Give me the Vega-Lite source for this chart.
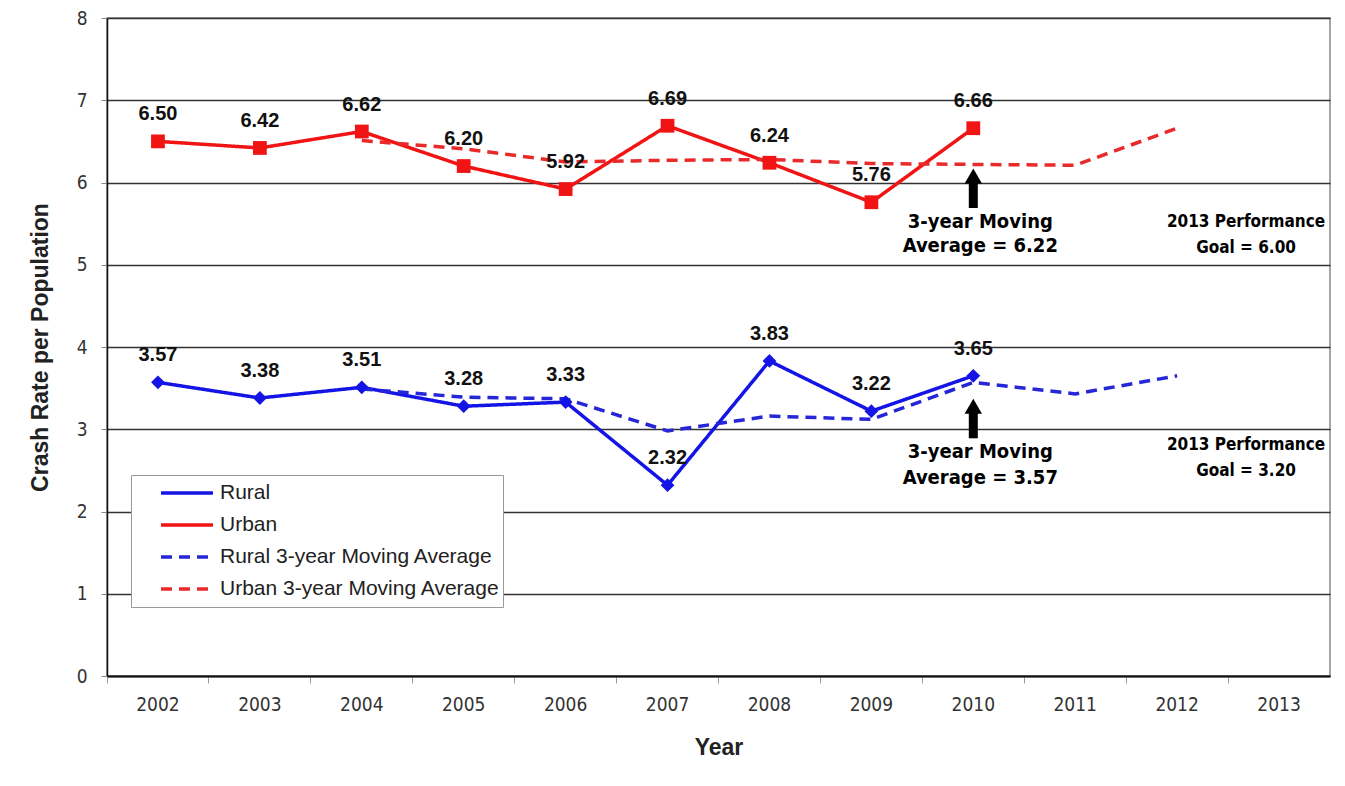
{
  "$schema": "https://vega.github.io/schema/vega-lite/v6.json",
  "width": 1223,
  "height": 658,
  "autosize": "none",
  "padding": {"left": 107, "top": 18, "right": 15, "bottom": 110},
  "background": "white",
  "config": {
    "view": {"stroke": "#888", "strokeWidth": 1.5},
    "font": "Liberation Sans"
  },
  "datasets": {
    "series": [
      {"year": "2002", "series": "Rural", "value": 3.57},
      {"year": "2003", "series": "Rural", "value": 3.38},
      {"year": "2004", "series": "Rural", "value": 3.51},
      {"year": "2005", "series": "Rural", "value": 3.28},
      {"year": "2006", "series": "Rural", "value": 3.33},
      {"year": "2007", "series": "Rural", "value": 2.32},
      {"year": "2008", "series": "Rural", "value": 3.83},
      {"year": "2009", "series": "Rural", "value": 3.22},
      {"year": "2010", "series": "Rural", "value": 3.65},
      {"year": "2002", "series": "Urban", "value": 6.50},
      {"year": "2003", "series": "Urban", "value": 6.42},
      {"year": "2004", "series": "Urban", "value": 6.62},
      {"year": "2005", "series": "Urban", "value": 6.20},
      {"year": "2006", "series": "Urban", "value": 5.92},
      {"year": "2007", "series": "Urban", "value": 6.69},
      {"year": "2008", "series": "Urban", "value": 6.24},
      {"year": "2009", "series": "Urban", "value": 5.76},
      {"year": "2010", "series": "Urban", "value": 6.66},
      {"year": "2004", "series": "Rural 3-year Moving Average", "value": 3.49},
      {"year": "2005", "series": "Rural 3-year Moving Average", "value": 3.39},
      {"year": "2006", "series": "Rural 3-year Moving Average", "value": 3.37},
      {"year": "2007", "series": "Rural 3-year Moving Average", "value": 2.98},
      {"year": "2008", "series": "Rural 3-year Moving Average", "value": 3.16},
      {"year": "2009", "series": "Rural 3-year Moving Average", "value": 3.12},
      {"year": "2010", "series": "Rural 3-year Moving Average", "value": 3.57},
      {"year": "2011", "series": "Rural 3-year Moving Average", "value": 3.43},
      {"year": "2012", "series": "Rural 3-year Moving Average", "value": 3.65},
      {"year": "2004", "series": "Urban 3-year Moving Average", "value": 6.51},
      {"year": "2005", "series": "Urban 3-year Moving Average", "value": 6.41},
      {"year": "2006", "series": "Urban 3-year Moving Average", "value": 6.25},
      {"year": "2007", "series": "Urban 3-year Moving Average", "value": 6.27},
      {"year": "2008", "series": "Urban 3-year Moving Average", "value": 6.28},
      {"year": "2009", "series": "Urban 3-year Moving Average", "value": 6.23},
      {"year": "2010", "series": "Urban 3-year Moving Average", "value": 6.22},
      {"year": "2011", "series": "Urban 3-year Moving Average", "value": 6.21},
      {"year": "2012", "series": "Urban 3-year Moving Average", "value": 6.66}
    ],
    "arrows": [
      {"year": "2010", "base": 5.69, "neck": 6.0, "tip": 6.08},
      {"year": "2010", "base": 2.89, "neck": 3.2, "tip": 3.28}
    ],
    "notes": [
      {"year": "2010", "value": 5.52, "text": "3-year Moving", "kind": "avg"},
      {"year": "2010", "value": 5.23, "text": "Average = 6.22", "kind": "avg"},
      {"year": "2010", "value": 2.72, "text": "3-year Moving", "kind": "avg"},
      {"year": "2010", "value": 2.41, "text": "Average = 3.57", "kind": "avg"},
      {"year": "2013", "value": 5.52, "text": "2013 Performance", "kind": "goal"},
      {"year": "2013", "value": 5.20, "text": "Goal = 6.00", "kind": "goal"},
      {"year": "2013", "value": 2.81, "text": "2013 Performance", "kind": "goal"},
      {"year": "2013", "value": 2.49, "text": "Goal = 3.20", "kind": "goal"}
    ]
  },
  "encoding": {
    "x": {
      "field": "year",
      "type": "ordinal",
      "scale": {"type": "band", "domain": ["2002","2003","2004","2005","2006","2007","2008","2009","2010","2011","2012","2013"], "paddingInner": 0, "paddingOuter": 0},
      "axis": {
        "title": "Year",
        "titleFont": "Liberation Sans",
        "titleFontSize": 23,
        "titleFontWeight": "bold",
        "titleColor": "#222",
        "titlePadding": 22,
        "bandPosition": 0,
        "labelAngle": 0,
        "labelOverlap": false,
        "labelFont": "DejaVu Sans Condensed, Liberation Sans",
        "labelFontSize": 19,
        "labelColor": "#333",
        "labelPadding": 12,
        "tickSize": 7,
        "tickColor": "#999",
        "domainColor": "#111",
        "domainWidth": 2,
        "grid": false
      }
    }
  },
  "layer": [
    {
      "data": {"name": "series"},
      "mark": {"type": "line"},
      "encoding": {
        "y": {
          "field": "value",
          "type": "quantitative",
          "scale": {"domain": [0, 8], "nice": false},
          "axis": {
            "title": "Crash Rate per Population",
            "titleFont": "Liberation Sans",
            "titleFontSize": 23,
            "titleFontWeight": "bold",
            "titleColor": "#222",
            "titlePadding": 24,
            "values": [0, 1, 2, 3, 4, 5, 6, 7, 8],
            "format": "d",
            "labelFont": "DejaVu Sans Condensed, Liberation Sans",
            "labelFontSize": 19,
            "labelColor": "#333",
            "labelPadding": 14,
            "tickSize": 6,
            "tickColor": "#888",
            "domainColor": "#111",
            "domainWidth": 1.5,
            "grid": true,
            "gridColor": "#333",
            "gridWidth": 1.6
          }
        },
        "color": {
          "field": "series",
          "type": "nominal",
          "scale": {
            "domain": ["Rural", "Urban", "Rural 3-year Moving Average", "Urban 3-year Moving Average"],
            "range": ["#1414E6", "#F01414", "#2626D9", "#E82A2A"]
          },
          "legend": {
            "title": null,
            "orient": "none",
            "legendX": 24,
            "legendY": 457,
            "fillColor": "white",
            "strokeColor": "#999",
            "padding": 3,
            "symbolOffset": 25,
            "symbolType": "stroke",
            "symbolSize": 2700,
            "clipHeight": 30,
            "labelFont": "Liberation Sans",
            "labelFontSize": 21,
            "labelColor": "#222",
            "labelOffset": 5,
            "labelLimit": 400,
            "rowPadding": 2
          }
        },
        "strokeDash": {
          "field": "series",
          "type": "nominal",
          "scale": {
            "domain": ["Rural", "Urban", "Rural 3-year Moving Average", "Urban 3-year Moving Average"],
            "range": [[1, 0], [1, 0], [11, 7], [11, 7]]
          },
          "legend": null
        },
        "strokeWidth": {
          "field": "series",
          "type": "nominal",
          "scale": {
            "domain": ["Rural", "Urban", "Rural 3-year Moving Average", "Urban 3-year Moving Average"],
            "range": [3.5, 3.5, 1.6, 1.6]
          },
          "legend": null
        }
      }
    },
    {
      "data": {"name": "series"},
      "transform": [{"filter": "datum.series === 'Rural' || datum.series === 'Urban'"}],
      "mark": {"type": "point", "filled": true, "opacity": 1, "size": 190},
      "encoding": {
        "y": {"field": "value", "type": "quantitative"},
        "color": {"field": "series", "type": "nominal", "legend": null},
        "shape": {
          "field": "series",
          "type": "nominal",
          "scale": {"domain": ["Rural", "Urban"], "range": ["diamond", "square"]},
          "legend": null
        }
      }
    },
    {
      "data": {"name": "series"},
      "transform": [{"filter": "datum.series === 'Rural' || datum.series === 'Urban'"}],
      "mark": {"type": "text", "dy": -27, "fontSize": 20, "fontWeight": "bold", "color": "#111", "font": "Liberation Sans"},
      "encoding": {
        "y": {"field": "value", "type": "quantitative"},
        "text": {"field": "value", "type": "quantitative", "format": ".2f"}
      }
    },
    {
      "data": {"name": "arrows"},
      "mark": {"type": "rule", "strokeWidth": 9, "color": "#000"},
      "encoding": {
        "y": {"field": "base", "type": "quantitative"},
        "y2": {"field": "neck"}
      }
    },
    {
      "data": {"name": "arrows"},
      "mark": {"type": "point", "shape": "triangle-up", "filled": true, "opacity": 1, "color": "#000", "size": 300},
      "encoding": {
        "y": {"field": "tip", "type": "quantitative"}
      }
    },
    {
      "data": {"name": "notes"},
      "transform": [{"filter": "datum.kind === 'avg'"}],
      "mark": {"type": "text", "dx": 7, "fontSize": 20, "fontWeight": "bold", "font": "DejaVu Sans Condensed, Liberation Sans", "color": "#000"},
      "encoding": {
        "y": {"field": "value", "type": "quantitative"},
        "text": {"field": "text"}
      }
    },
    {
      "data": {"name": "notes"},
      "transform": [{"filter": "datum.kind === 'goal'"}],
      "mark": {"type": "text", "dx": -33, "fontSize": 17, "fontWeight": "bold", "font": "DejaVu Sans Condensed, Liberation Sans", "color": "#000"},
      "encoding": {
        "y": {"field": "value", "type": "quantitative"},
        "text": {"field": "text"}
      }
    }
  ]
}
